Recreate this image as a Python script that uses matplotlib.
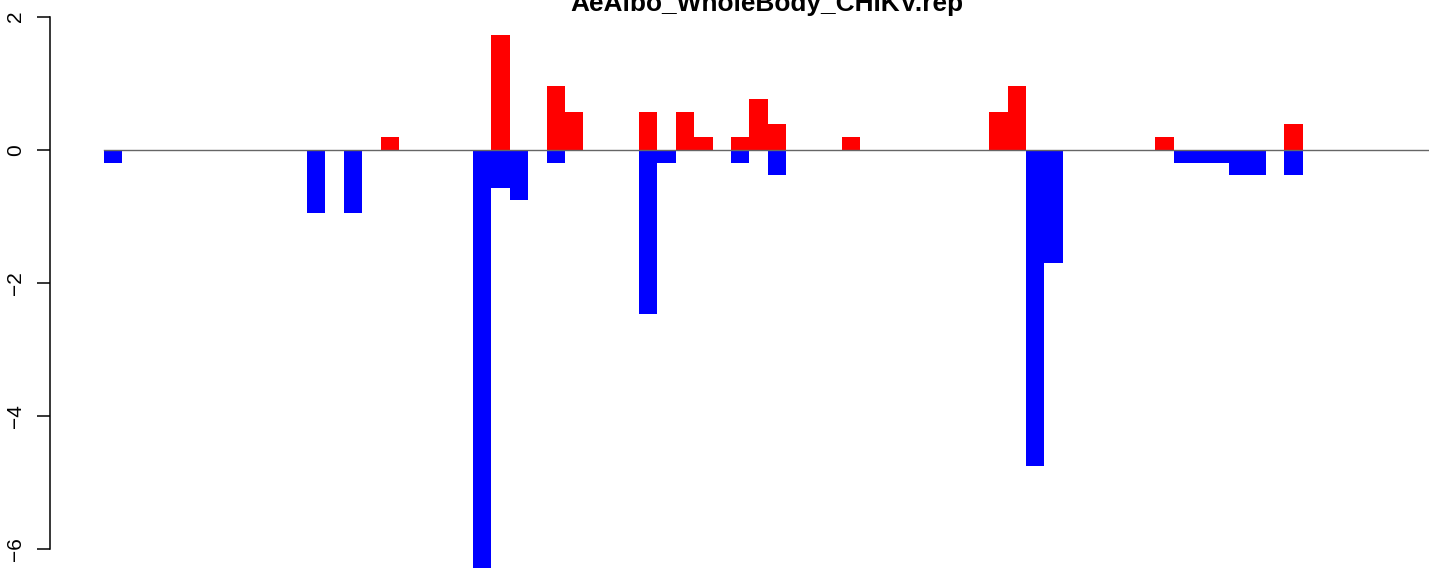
import matplotlib
matplotlib.use("Agg")
import matplotlib.pyplot as plt
import numpy as np

title = "AeAlbo_WholeBody_CHIKV.rep"
n_bins = 72

# positive (red) values by bin index
pos_idx = [15, 21, 24, 25, 29, 31, 32, 34, 35, 36, 40, 48, 49, 57, 64]
pos_val = [0.19, 1.72, 0.95, 0.57, 0.57, 0.57, 0.19, 0.19, 0.76, 0.38, 0.19, 0.57, 0.95, 0.19, 0.38]

# negative (blue) values by bin index
neg_idx = [0, 11, 13, 20, 21, 22, 24, 29, 30, 34, 36, 50, 51, 58, 59, 60, 61, 62, 64]
neg_val = [-0.2, -0.95, -0.95, -6.3, -0.57, -0.76, -0.2, -2.47, -0.2, -0.2, -0.38,
           -4.75, -1.71, -0.2, -0.2, -0.2, -0.38, -0.38, -0.38]

yticks = [-6, -4, -2, 0, 2]
ytick_labels = ["\u22126", "\u22124", "\u22122", "0", "2"]

pos = np.zeros(n_bins)
neg = np.zeros(n_bins)
pos[pos_idx] = pos_val
neg[neg_idx] = neg_val

W, H = 1429, 568
fig = plt.figure(figsize=(W / 100, H / 100), dpi=100)
plt.rcParams['font.family'] = ['Liberation Sans', 'DejaVu Sans']

ax = fig.add_axes([50 / W, 0, 1433 / W, 1])
x = np.arange(n_bins)
ax.bar(x, pos, width=1.0, align='edge', color='#FF0000', linewidth=0)
ax.bar(x, neg, width=1.0, align='edge', color='#0000FF', linewidth=0)
ax.plot([0, n_bins], [0, 0], color='#666666', lw=1.0, zorder=5)

px_per_unit = 18.44
xl = -(104 - 50) / px_per_unit
ax.set_xlim(xl, xl + 1433 / px_per_unit)
ax.set_ylim(-6.285, 2.248)

for s in ['top', 'right', 'bottom']:
    ax.spines[s].set_visible(False)
ax.spines['left'].set_bounds(-6, 2)
ax.spines['left'].set_linewidth(1.1)
ax.set_xticks([])
ax.set_yticks(yticks)
ax.set_yticklabels(ytick_labels, rotation=90, va='center')
ax.tick_params(axis='y', length=9.4, width=1.1, pad=8.5, labelsize=15)

fig.text(767 / W, 1 - 11 / H, title, ha='center', va='baseline',
         fontsize=18.9, fontweight='bold')

fig.savefig("out.png", dpi=100)
